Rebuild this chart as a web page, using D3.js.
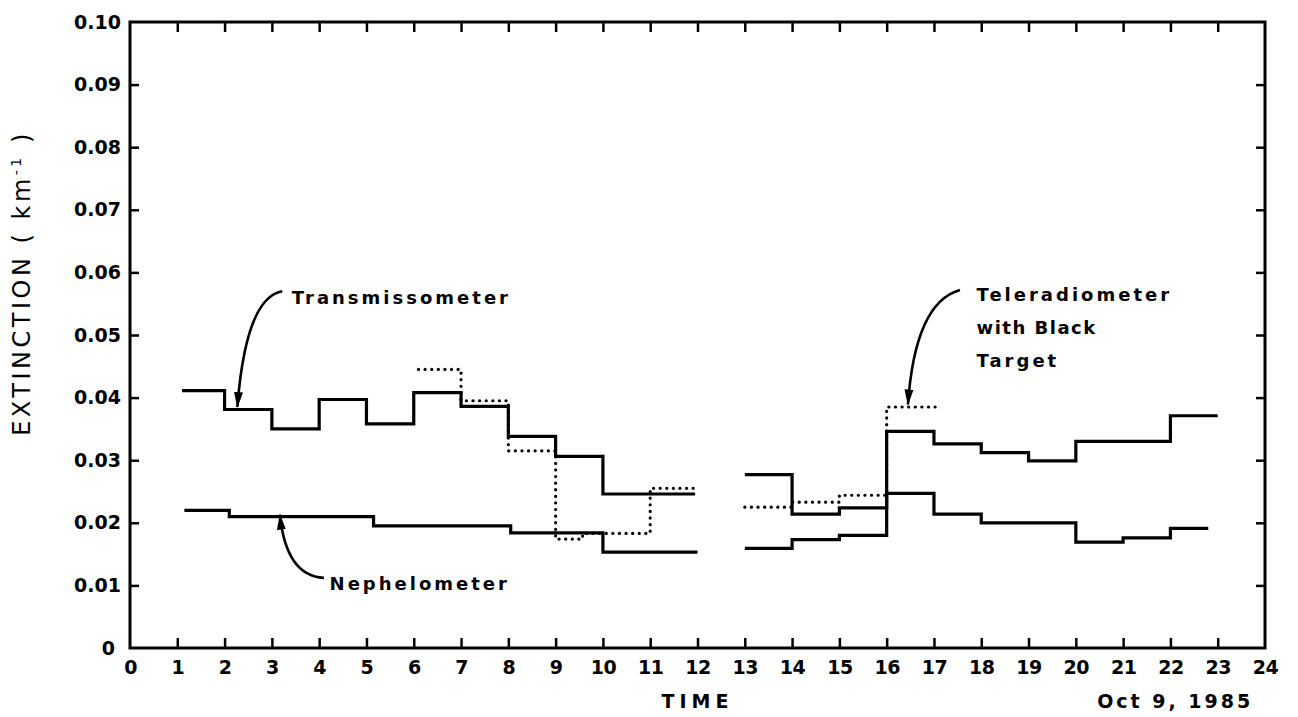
<!DOCTYPE html>
<html lang="en">
<head>
	<meta charset="utf-8">
	<title>Extinction, Oct 9 1985</title>
	<style>
		body { margin: 0; background: #fff; }
		svg { display: block; }
		text { font-family: "DejaVu Sans", sans-serif; fill: #000; }
	</style>
</head>
<body>

	<div id="chart"></div>

	<script src="https://d3js.org/d3.v7.min.js"></script>
	<script>
		// hourly step values (x = hour edges, v = value in each step)
		var transAmX = [1.1, 2, 3, 4, 5, 6, 7, 8, 9, 10, 11.95];
		var transAmV = [0.0411, 0.0381, 0.0350, 0.0397, 0.0358, 0.0408, 0.0386, 0.0338, 0.0306, 0.0246];
		var transPmX = [13, 14, 15, 16, 17, 18, 19, 20, 22, 23];
		var transPmV = [0.0277, 0.0214, 0.0224, 0.0346, 0.0326, 0.0312, 0.0299, 0.0330, 0.0371];

		var nephAmX = [1.15, 2.1, 5.15, 8.05, 10, 12];
		var nephAmV = [0.0220, 0.0210, 0.0195, 0.0184, 0.0153];
		var nephPmX = [13, 14, 15, 16, 17, 18, 20, 21, 22, 22.8];
		var nephPmV = [0.0159, 0.0173, 0.0180, 0.0247, 0.0214, 0.0200, 0.0169, 0.0176, 0.0191];

		var teleAmX = [6.1, 7, 8, 9, 9.57, 11, 11.93];
		var teleAmV = [0.0445, 0.0395, 0.0315, 0.0174, 0.0183, 0.0255];
		var telePmX = [13, 14, 15, 16, 17.1];
		var telePmV = [0.0225, 0.0233, 0.0244, 0.0385];

		var hourTicks = d3.range(0, 25);
		var valueTicks = [0, 0.01, 0.02, 0.03, 0.04, 0.05, 0.06, 0.07, 0.08, 0.09, 0.10];

		// labels with arrows: [tail hour, tail value, bend hour, bend value, head hour, head value]
		var transArrow = [3.22, 0.0570, 2.45, 0.0560, 2.27, 0.0385];
		var nephArrow = [4.1, 0.0112, 3.3, 0.0115, 3.17, 0.0213];
		var teleArrow = [17.55, 0.0572, 16.6, 0.0552, 16.45, 0.0389];

		var
			width = 1298,
			height = 717;

		var svg = d3.select("#chart")
			.append("svg")
			.attr("width", width)
			.attr("height", height);

		var x = d3.scaleLinear().domain([0, 24]).range([130, 1265]);
		var y = d3.scaleLinear().domain([0, 0.1]).range([648, 22]);

		var yFmt = function(d) { return d === 0 ? "0" : d3.format(".2f")(d); };

		// axes, ticks pointing inward
		var gx = svg.append("g")
			.attr("transform", "translate(0," + y(0) + ")")
			.call(d3.axisBottom(x).tickValues(hourTicks).tickSize(-10).tickPadding(13));
		var gy = svg.append("g")
			.attr("transform", "translate(" + x(0) + ",0)")
			.call(d3.axisLeft(y).tickValues(valueTicks).tickFormat(yFmt).tickSize(-9).tickPadding(9));
		var gt = svg.append("g")
			.attr("transform", "translate(0," + y(0.1) + ")")
			.call(d3.axisTop(x).tickValues(hourTicks).tickSize(-10).tickFormat(""));
		var gr = svg.append("g")
			.attr("transform", "translate(" + x(24) + ",0)")
			.call(d3.axisRight(y).tickValues(valueTicks).tickSize(-9).tickFormat(""));

		[gx, gy, gt, gr].forEach(function(g) {
			g.select(".domain").remove();
			g.selectAll(".tick line").attr("stroke", "#000").attr("stroke-width", 2.5);
			g.selectAll("text")
				.attr("font-size", 19)
				.attr("font-weight", "bold")
				.attr("font-family", "DejaVu Sans, sans-serif")
				.attr("fill", "#000");
		});
		gx.selectAll(".tick").filter(function(d) { return d === 0 || d === 24; }).select("line").remove();
		gt.selectAll(".tick").filter(function(d) { return d === 0 || d === 24; }).remove();
		gy.selectAll(".tick").filter(function(d) { return d === 0 || d === 0.1; }).select("line").remove();
		gr.selectAll(".tick").filter(function(d) { return d === 0 || d === 0.1; }).remove();
		gx.selectAll("text").attr("letter-spacing", -0.5);
		gy.selectAll(".tick").filter(function(d) { return d === 0; }).select("text").attr("dx", -6);

		svg.append("rect")
			.attr("x", x(0))
			.attr("y", y(0.1))
			.attr("width", x(24) - x(0))
			.attr("height", y(0) - y(0.1))
			.attr("fill", "none")
			.attr("stroke", "#000")
			.attr("stroke-width", 3);

		// step lines
		var line = d3.line()
			.x(function(d) { return x(d[0]); })
			.y(function(d) { return y(d[1]); })
			.curve(d3.curveStepAfter);

		function steps(xs, vs) {
			var pts = vs.map(function(v, i) { return [xs[i], v]; });
			pts.push([xs[xs.length - 1], vs[vs.length - 1]]);
			return pts;
		}

		var dotted = [steps(teleAmX, teleAmV), steps(telePmX, telePmV)];
		var solid = [
			steps(transAmX, transAmV), steps(transPmX, transPmV),
			steps(nephAmX, nephAmV), steps(nephPmX, nephPmV)
		];

		svg.selectAll(".tele")
			.data(dotted)
		.enter().append("path")
			.attr("class", "tele")
			.attr("d", line)
			.attr("fill", "none")
			.attr("stroke", "#000")
			.attr("stroke-width", 3.2)
			.attr("stroke-linecap", "round")
			.attr("stroke-dasharray", "0.1,6.5");

		svg.selectAll(".solid")
			.data(solid)
		.enter().append("path")
			.attr("class", "solid")
			.attr("d", line)
			.attr("fill", "none")
			.attr("stroke", "#000")
			.attr("stroke-width", 3.2);

		// arrows
		svg.append("defs").append("marker")
			.attr("id", "head")
			.attr("markerUnits", "userSpaceOnUse")
			.attr("viewBox", "0 -5 16 10")
			.attr("refX", 15)
			.attr("refY", 0)
			.attr("markerWidth", 16)
			.attr("markerHeight", 10)
			.attr("orient", "auto")
		.append("path")
			.attr("d", "M0,-4.5L16,0L0,4.5Z")
			.attr("fill", "#000");

		svg.selectAll(".arrow")
			.data([transArrow, nephArrow, teleArrow])
		.enter().append("path")
			.attr("class", "arrow")
			.attr("d", function(a) {
				var p = d3.path();
				p.moveTo(x(a[0]), y(a[1]));
				p.quadraticCurveTo(x(a[2]), y(a[3]), x(a[4]), y(a[5]));
				return p.toString();
			})
			.attr("fill", "none")
			.attr("stroke", "#000")
			.attr("stroke-width", 2.6)
			.attr("marker-end", "url(#head)");

		function label(txt, h, v, size, spacing) {
			return svg.append("text")
				.attr("x", x(h))
				.attr("y", y(v))
				.attr("font-size", size)
				.attr("font-weight", "bold")
				.attr("letter-spacing", spacing)
				.text(txt);
		}

		label("Transmissometer", 3.42, 0.0550, 18, 3);
		label("Nephelometer", 4.22, 0.0092, 18, 3);
		label("Teleradiometer", 17.9, 0.0555, 18, 3);
		label("with Black", 17.9, 0.0501, 18, 1.5);
		label("Target", 17.9, 0.0449, 18, 3);

		label("TIME", 12, -0.0096, 19, 5).attr("text-anchor", "middle");
		label("Oct 9, 1985", 23.75, -0.0096, 19, 3).attr("text-anchor", "end");

		var yt = svg.append("text")
			.attr("transform", "translate(30," + y(0.0583) + ") rotate(-90)")
			.attr("text-anchor", "middle")
			.attr("font-size", 24)
			.attr("letter-spacing", 3.5);
		yt.append("tspan").text("EXTINCTION ( km");
		yt.append("tspan").attr("font-size", 14).attr("dy", -9).text("-1");
		yt.append("tspan").attr("dy", 9).text(" )");
	</script>

</body>
</html>
